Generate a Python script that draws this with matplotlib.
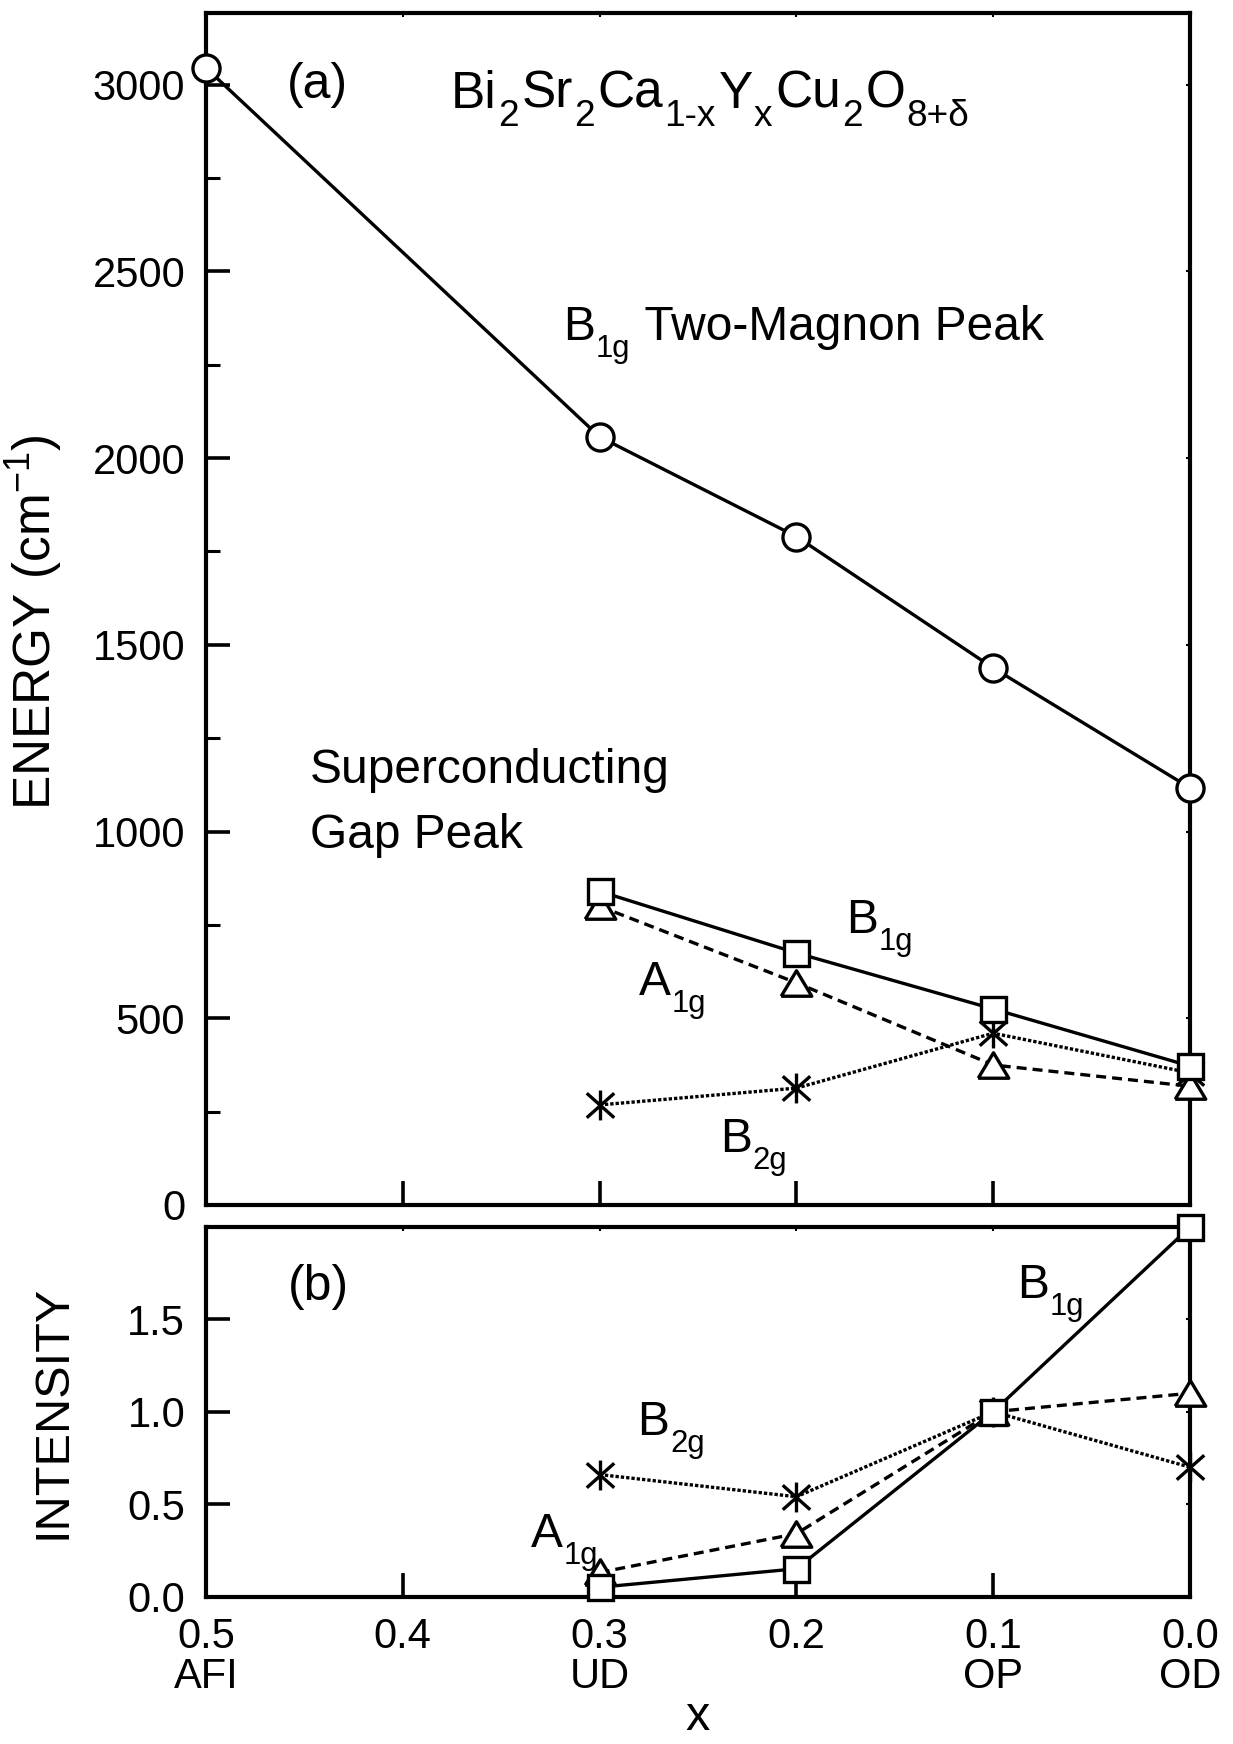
# Bi2212 Raman: two-magnon and gap-peak energies (a) and intensities (b) vs Y content x
import matplotlib
matplotlib.use('Agg')
import matplotlib.pyplot as plt
from matplotlib.path import Path
from matplotlib.ticker import MultipleLocator

plt.rcParams['font.family'] = ['Liberation Sans', 'DejaVu Sans']
plt.rcParams['mathtext.fontset'] = 'custom'
plt.rcParams['mathtext.rm'] = 'Liberation Sans'
plt.rcParams['mathtext.it'] = 'Liberation Sans:italic'

# ---------- data ----------
x_magnon = [0.5, 0.3, 0.2, 0.1, 0.0]
two_magnon = [3045, 2057, 1790, 1438, 1117]

x_gap = [0.3, 0.2, 0.1, 0.0]
b1g_energy = [840, 675, 525, 372]
a1g_energy = [800, 595, 375, 318]
b2g_energy = [268, 313, 460, 354]

b1g_int = [0.05, 0.15, 1.0, 2.0]
a1g_int = [0.13, 0.34, 1.0, 1.10]
b2g_int = [0.66, 0.54, 1.0, 0.70]

x_ticks = [0.5, 0.4, 0.3, 0.2, 0.1, 0.0]
x_ticklabels = ['0.5\nAFI', '0.4', '0.3\nUD', '0.2', '0.1\nOP', '0.0\nOD']

# ---------- figure ----------
W, H = 1233, 1744
fig = plt.figure(figsize=(W / 100, H / 100), dpi=100)
ax1 = fig.add_axes([206 / W, 1 - 1205 / H, 984 / W, 1192 / H])
ax2 = fig.add_axes([206 / W, 1 - 1596.5 / H, 984 / W, 369.5 / H])
renderer = fig.canvas.get_renderer()

LW = 2.4
# six-armed asterisk: vertical bar plus two diagonals
asterisk = Path([(0, -1), (0, 1), (-0.92, -0.82), (0.92, 0.82),
                 (-0.92, 0.82), (0.92, -0.82)],
                [Path.MOVETO, Path.LINETO] * 3)
triangle = [(-0.6, -0.5), (0.6, -0.5), (0.0, 0.5), (-0.6, -0.5)]
style = dict(color='black', lw=LW, mfc='white', mec='black', mew=LW,
             clip_on=False, zorder=4)

def setup(ax):
    for s in ax.spines.values():
        s.set_linewidth(3)
    ax.set_xlim(0.5, 0.0)
    ax.set_xticks(x_ticks)
    ax.tick_params(which='major', direction='in', length=17, width=2.6,
                   labelsize=30, pad=15)
    ax.tick_params(which='minor', direction='in', length=10, width=2.2)
    top = ax.secondary_xaxis('top')
    top.set_xticks(ax.get_xticks())
    top.set_xticklabels([])
    right = ax.secondary_yaxis('right')
    right.set_yticks(ax.get_yticks())
    right.set_yticklabels([])
    for sec in (top, right):
        sec.tick_params(direction='in', length=3, width=1.5)
        for s in sec.spines.values():
            s.set_visible(False)

def rich(x, y, pieces, size=34.5, sub_scale=0.65, drop=0.36, gap=2):
    # pieces: (text, is_subscript); x, y in image pixels, y = main baseline
    cx = x
    for s, sub in pieces:
        fs = size * sub_scale if sub else size
        dy = size * drop * 100 / 72 if sub else 0
        t = fig.text(cx / W, 1 - (y + dy) / H, s, fontsize=fs,
                     ha='left', va='baseline')
        cx += t.get_window_extent(renderer).width + (gap if sub else 1)

# ========== (a) energies ==========
ax1.set_ylim(0, 3192)
ax1.yaxis.set_major_locator(MultipleLocator(500))
ax1.yaxis.set_minor_locator(MultipleLocator(250))
setup(ax1)
ax1.set_xticklabels([])

ax1.plot(x_magnon, two_magnon, marker='o', ms=19.5, ls='-', **style)
ax1.plot(x_gap, b2g_energy, marker=asterisk, ms=21.5, ls=(0, (1.0, 0.6)), **style)
ax1.plot(x_gap, a1g_energy, marker=triangle, ms=22, ls=(0, (3, 1.8)), **style)
ax1.plot(x_gap, b1g_energy, marker='s', ms=18, ls='-', **style)

ax1.set_ylabel('ENERGY (cm$^{\\mathregular{-1}}$)', fontsize=37)
ax1.yaxis.set_label_coords(-0.143, 0.489)

rich(287, 98, [('(a)', False)], size=36)
rich(451, 108, [('Bi', False), ('2', True), ('Sr', False), ('2', True),
                ('Ca', False), ('1-x', True), ('Y', False), ('x', True),
                ('Cu', False), ('2', True), ('O', False), ('8+δ', True)],
     size=37, sub_scale=0.72, gap=3)
rich(563, 340, [('B', False), ('1g', True), (' Two-Magnon Peak', False)])
rich(310, 783, [('Superconducting', False)])
rich(310, 848, [('Gap Peak', False)])
rich(846, 933, [('B', False), ('1g', True)])
rich(639, 995, [('A', False), ('1g', True)])
rich(720, 1152, [('B', False), ('2g', True)])

# ========== (b) intensities ==========
ax2.set_ylim(0, 2.0)
ax2.set_yticks([0.0, 0.5, 1.0, 1.5])
ax2.set_yticklabels(['0.0', '0.5', '1.0', '1.5'])
setup(ax2)
ax2.set_xticklabels(x_ticklabels, linespacing=1.0)

ax2.plot(x_gap, b2g_int, marker=asterisk, ms=21.5, ls=(0, (1.0, 0.6)), **style)
ax2.plot(x_gap, a1g_int, marker=triangle, ms=22, ls=(0, (3, 1.8)), **style)
ax2.plot(x_gap, b1g_int, marker='s', ms=18, ls='-', **style)

ax2.set_ylabel('INTENSITY', fontsize=35)
ax2.yaxis.set_label_coords(-0.133, 0.5)
ax2.set_xlabel('x', fontsize=35, labelpad=-2)

rich(288, 1300, [('(b)', False)], size=36)
rich(1017, 1298, [('B', False), ('1g', True)])
rich(637, 1435, [('B', False), ('2g', True)])
rich(531, 1547, [('A', False), ('1g', True)])

fig.savefig('out.png', dpi=100, facecolor='white')
plt.close(fig)
